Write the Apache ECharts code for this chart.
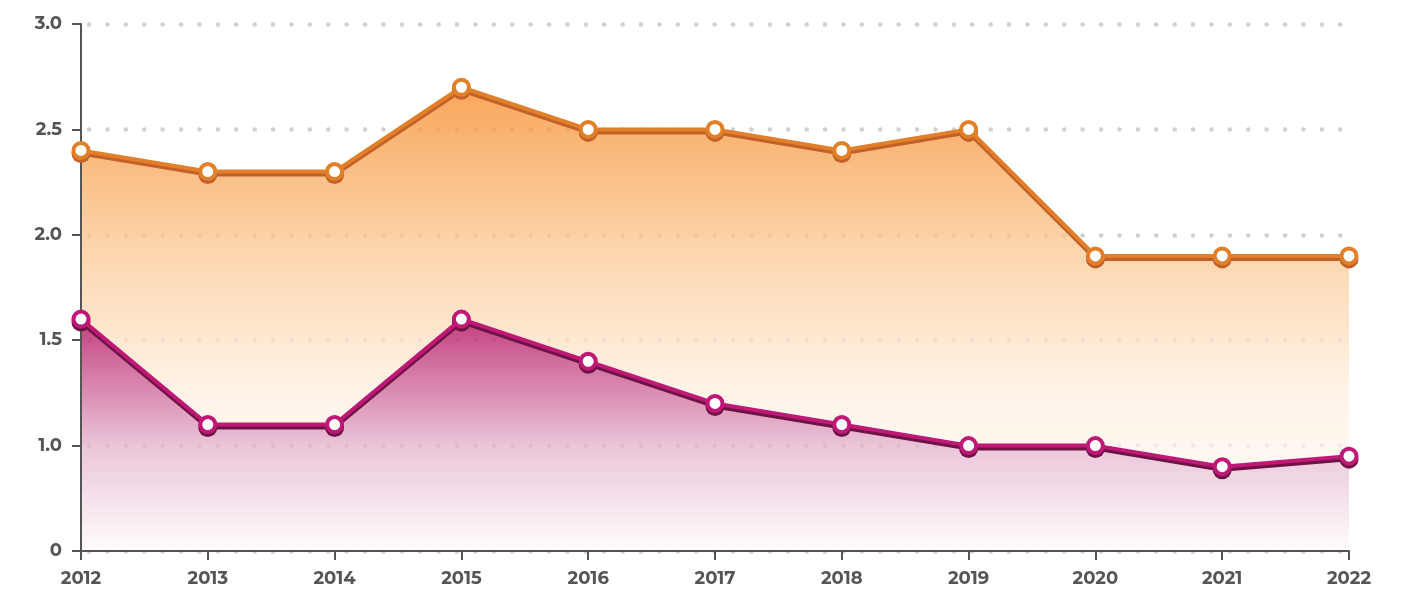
<!DOCTYPE html>
<html>
<head>
<meta charset="utf-8">
<script src="https://cdn.jsdelivr.net/npm/echarts@6/dist/echarts.min.js"></script>
<style>
  html, body { margin: 0; padding: 0; background: #fff; }
  #chart { width: 1404px; height: 589px; }
</style>
</head>
<body>
<div id="chart"></div>
<script>
// 数据
const years = ["2012", "2013", "2014", "2015", "2016", "2017", "2018", "2019", "2020", "2021", "2022"];
const orangeValues = [2.4, 2.3, 2.3, 2.7, 2.5, 2.5, 2.4, 2.5, 1.9, 1.9, 1.9];
const magentaValues = [1.6, 1.1, 1.1, 1.6, 1.4, 1.2, 1.1, 1.0, 1.0, 0.9, 0.95];

const axisColor = "#555555";
const fontFamily = "Montserrat, 'Open Sans', Lato, sans-serif";

// 网格点
function dotLine(color) {
    return {
        show: true,
        lineStyle: {
            color: color,
            width: 4.5,
            type: [0.1, 18.3],
            dashOffset: -8,
            cap: "round"
        }
    };
}

// 面积
function areaSeries(data, stops) {
    return {
        type: "line",
        data: data,
        z: 1,
        symbol: "none",
        silent: true,
        lineStyle: { width: 0 },
        areaStyle: {
            opacity: 1,
            color: new echarts.graphic.LinearGradient(0, 0, 0, 1, stops)
        }
    };
}

// 圆点的阴影
function symbolShadowSeries(data, shadowColor) {
    return {
        type: "line",
        data: data,
        z: 2,
        silent: true,
        symbol: "circle",
        symbolSize: 19,
        symbolOffset: [0, 3],
        showAllSymbol: true,
        lineStyle: { width: 0, opacity: 0 },
        itemStyle: { color: shadowColor }
    };
}

// 折线
function lineSeries(data, lineColor, shadowColor) {
    return {
        type: "line",
        data: data,
        z: 3,
        symbol: "circle",
        symbolSize: 15,
        showAllSymbol: true,
        lineStyle: {
            color: lineColor,
            width: 4,
            shadowColor: shadowColor,
            shadowBlur: 0,
            shadowOffsetY: 3
        },
        itemStyle: {
            color: "#ffffff",
            borderColor: lineColor,
            borderWidth: 4
        },
        emphasis: { disabled: true }
    };
}

let chart = echarts.init(document.getElementById("chart"));
let option = {
    animation: false,
    grid: { left: 81, right: 55, top: 24, bottom: 38 },
    xAxis: {
        type: "category",
        boundaryGap: false,
        data: years,
        z: 2,
        axisLine: { lineStyle: { color: axisColor, width: 2 } },
        axisTick: { alignWithLabel: true, length: 9, lineStyle: { color: axisColor, width: 2 } },
        axisLabel: {
            color: axisColor,
            fontFamily: fontFamily,
            fontWeight: "bold",
            fontSize: 18,
            margin: 19
        },
        splitLine: { show: false }
    },
    yAxis: [
        {
            type: "value",
            min: 0.5,
            max: 3,
            interval: 0.5,
            z: 2,
            axisLine: { show: true, lineStyle: { color: axisColor, width: 2 } },
            axisTick: { show: true, length: 9, lineStyle: { color: axisColor, width: 2 } },
            axisLabel: {
                color: axisColor,
                fontFamily: fontFamily,
                fontWeight: "bold",
                fontSize: 18,
                margin: 19,
                formatter: v => v === 0.5 ? "0" : v.toFixed(1)
            },
            // 面积上方的淡点
            splitLine: dotLine("rgba(0,0,0,0.05)")
        },
        {
            // 面积下方的实点
            type: "value",
            min: 0.5,
            max: 3,
            interval: 0.5,
            z: 0,
            axisLine: { show: false },
            axisTick: { show: false },
            axisLabel: { show: false },
            splitLine: dotLine("#dcdcdc")
        }
    ],
    series: [
        areaSeries(orangeValues, [
            { offset: 0, color: "#f8a65a" },
            { offset: 0.35, color: "#fcd5ac" },
            { offset: 0.65, color: "#fff3e7" },
            { offset: 1, color: "#ffffff" }
        ]),
        areaSeries(magentaValues, [
            { offset: 0, color: "#c4407f" },
            { offset: 0.55, color: "#ebc6d9" },
            { offset: 1, color: "#fefcfd" }
        ]),
        symbolShadowSeries(orangeValues, "#c2602a"),
        symbolShadowSeries(magentaValues, "#6e1445"),
        lineSeries(orangeValues, "#e2802a", "#c2602a"),
        lineSeries(magentaValues, "#c01877", "#6e1445")
    ]
};
chart.setOption(option);
</script>
</body>
</html>
